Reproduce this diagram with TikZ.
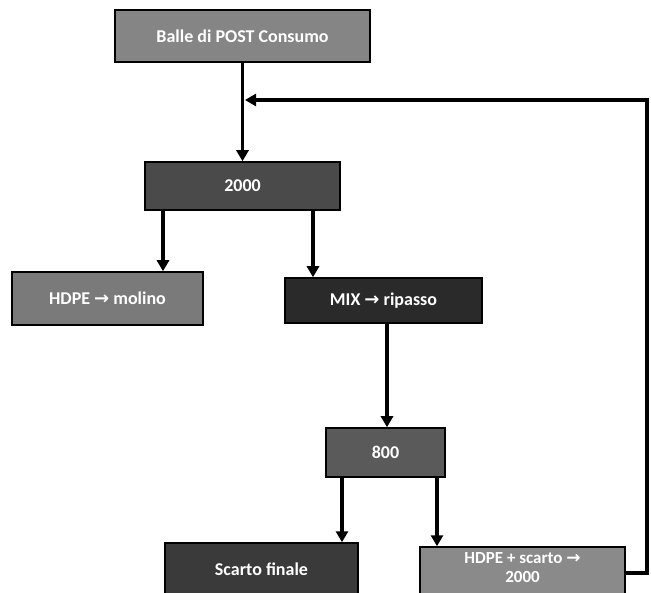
\documentclass[tikz,border=0pt]{standalone}
\usepackage{fontspec}
\setmainfont{Carlito}
\newfontfamily\symfont{DejaVu Sans}
\usetikzlibrary{arrows.meta}
\definecolor{gA}{HTML}{858585}
\definecolor{gB}{HTML}{4A4A4A}
\definecolor{gC}{HTML}{7A7A7A}
\definecolor{gD}{HTML}{2A2A2A}
\definecolor{gE}{HTML}{5A5A5A}
\definecolor{gF}{HTML}{3A3A3A}
\definecolor{gG}{HTML}{8A8A8A}
\newcommand{\ra}{{\symfont\bfseries →}}
\begin{document}
\begin{tikzpicture}[x=1pt,y=-1pt,
  box/.style={draw=black,line width=1.5pt,text=white,font=\fontsize{18}{20}\selectfont\bfseries,inner sep=0pt,align=center},
  conn/.style={line width=3.5pt,draw=black},
  arr/.style={conn,-{Triangle[length=11pt,width=12pt]}}]
\useasboundingbox (0,0) rectangle (651,593);
\clip (0,0) rectangle (651,593);
\node[box,fill=gA,minimum width=255pt,minimum height=52pt] (top) at (242.5,36) {Balle di POST Consumo};
\node[box,fill=gB,minimum width=195pt,minimum height=48pt] (n2000) at (242.5,186) {2000};
\node[box,fill=gC,minimum width=191pt,minimum height=53pt] (molino) at (107.5,298.5) {HDPE \ra\ molino};
\node[box,fill=gD,minimum width=197pt,minimum height=45pt] (mix) at (383.5,300.5) {MIX \ra\ ripasso};
\node[box,fill=gE,minimum width=119pt,minimum height=49pt] (n800) at (385.5,452.5) {800};
\node[box,fill=gF,minimum width=193pt,minimum height=52pt] (scarto) at (261.5,569) {Scarto finale};
\node[box,fill=gG,minimum width=205pt,minimum height=52pt] (hdpe) at (522.5,573) {};
\node[text=white,font=\fontsize{17}{19}\selectfont\bfseries,align=center,anchor=north,inner sep=0pt] (hdpetxt) at (522.5,552) {HDPE + scarto \ra\\2000};
\coordinate (fbA) at (647,100);
\coordinate (join) at (243,100);
\draw[arr] (top.south) -- (n2000.north);
\draw[arr] (n2000.south -| 163,0) -- (molino.north -| 163,0);
\draw[arr] (n2000.south -| 313,0) -- (mix.north -| 313,0);
\draw[arr] (mix.south -| 387,0) -- (n800.north -| 387,0);
\draw[arr] (n800.south -| 342,0) -- (scarto.north -| 342,0);
\draw[arr] (n800.south -| 437,0) -- (hdpe.north -| 437,0);
\draw[arr] (hdpe.east) -| (fbA) -- ([xshift=2pt]join);
\end{tikzpicture}
\end{document}
